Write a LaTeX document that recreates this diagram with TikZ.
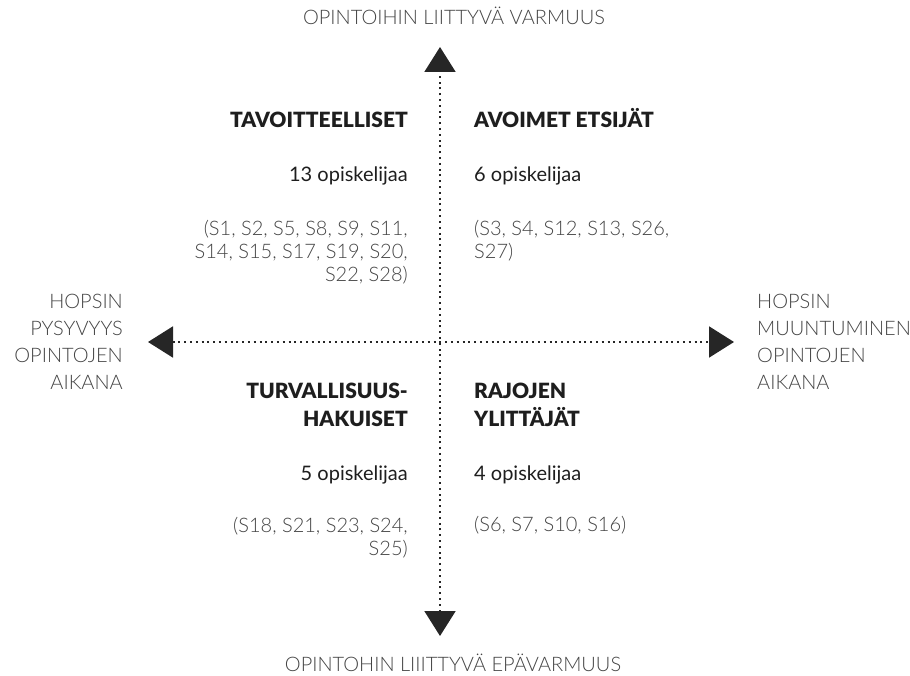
\documentclass[tikz,border=0pt]{standalone}
\usepackage{fontspec}
\setmainfont{Lato}
\newfontfamily\lightfont{Lato Light}
\newfontfamily\heavyfont{Lato Black}
\usetikzlibrary{arrows.meta}

\definecolor{txtgray}{HTML}{444444}
\definecolor{txtdark}{HTML}{1E1E1E}

\tikzset{
  axisline/.style={line width=2pt, dash pattern=on 2pt off 3.8pt, black!85,
    {Triangle[length=25pt,width=31pt]}-{Triangle[length=25pt,width=31pt]}},
  axislabel/.style={inner sep=0pt, text=txtgray, font=\lightfont\fontsize{20}{27}\selectfont},
  title/.style={inner sep=0pt, text=txtdark, font=\heavyfont\fontsize{21}{28}\selectfont},
  count/.style={inner sep=0pt, text=txtdark, font=\fontsize{20}{23}\selectfont},
  ids/.style={inner sep=0pt, text=txtgray, font=\lightfont\fontsize{20}{23}\selectfont},
}

\begin{document}
\begin{tikzpicture}[x=1pt,y=-1pt]
  \useasboundingbox (0,0) rectangle (910,676);

  % axis end points
  \coordinate (top) at (440,47);
  \coordinate (bottom) at (440,636);
  \coordinate (left) at (148,342);
  \coordinate (right) at (734,342);

  \draw[axisline] (bottom) -- (top);
  \draw[axisline] (left) -- (right);

  % axis labels (multi-line nodes sit on the baseline of their last line)
  \node[axislabel, anchor=base] (ytop) at (454,25) {OPINTOIHIN LIITTYVÄ VARMUUS};
  \node[axislabel, anchor=base] (ybot) at (453,671) {OPINTOHIN LIIITTYVÄ EPÄVARMUUS};
  \node[axislabel, anchor=base east, align=right] (xleft) at (123,389)
    {HOPSIN\\PYSYVYYS\\OPINTOJEN\\AIKANA};
  \node[axislabel, anchor=base west, align=left] (xright) at (757,389)
    {HOPSIN\\MUUNTUMINEN\\OPINTOJEN\\AIKANA};

  % upper left quadrant
  \node[title, anchor=base east] (q1t) at (408,128) {TAVOITTEELLISET};
  \node[count, anchor=base east] (q1c) at (408,182) {13 opiskelijaa};
  \node[ids, anchor=base east, align=right] (q1i) at (408,282)
    {(S1, S2, S5, S8, S9, S11,\\S14, S15, S17, S19, S20,\\S22, S28)};

  % upper right quadrant
  \node[title, anchor=base west] (q2t) at (474,128) {AVOIMET ETSIJÄT};
  \node[count, anchor=base west] (q2c) at (474,182) {6 opiskelijaa};
  \node[ids, anchor=base west, align=left] (q2i) at (474,259)
    {(S3, S4, S12, S13, S26,\\S27)};

  % lower left quadrant
  \node[title, anchor=base east, align=right] (q3t) at (408,426)
    {TURVALLISUUS-\\HAKUISET};
  \node[count, anchor=base east] (q3c) at (408,480) {5 opiskelijaa};
  \node[ids, anchor=base east, align=right] (q3i) at (408,555)
    {(S18, S21, S23, S24,\\S25)};

  % lower right quadrant
  \node[title, anchor=base west, align=left] (q4t) at (474,426)
    {RAJOJEN\\YLITTÄJÄT};
  \node[count, anchor=base west] (q4c) at (474,480) {4 opiskelijaa};
  \node[ids, anchor=base west] (q4i) at (474,531) {(S6, S7, S10, S16)};
\end{tikzpicture}
\end{document}
